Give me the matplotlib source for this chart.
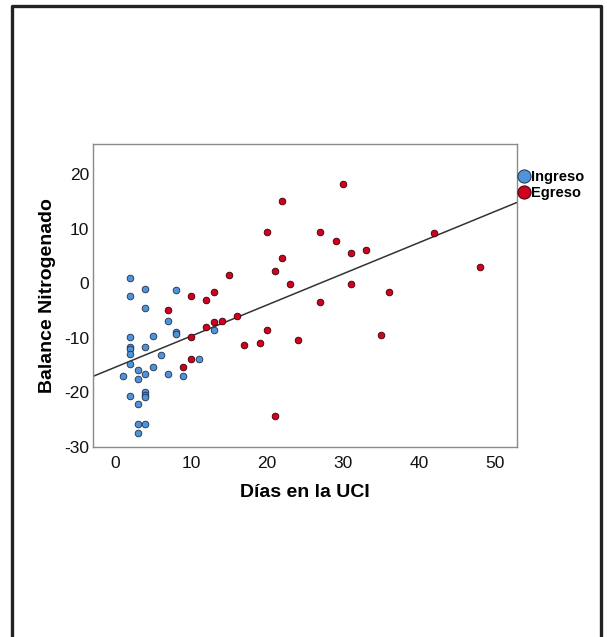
import numpy as np
import matplotlib
matplotlib.use("Agg")
import matplotlib.pyplot as plt
from matplotlib.lines import Line2D

plt.rcParams['font.family'] = ['Liberation Sans', 'DejaVu Sans']
plt.rcParams['axes.unicode_minus'] = False

# Ingreso (admission) points
ingreso_dias = [2, 2, 4, 4, 8, 7, 8, 8, 2, 2, 2, 4, 5, 2, 6, 2, 13, 11, 5, 3,
                4, 7, 1, 9, 3, 2, 4, 4, 4, 3, 3, 4, 3]
ingreso_bal = [0.9, -2.3, -1.0, -4.6, -1.2, -6.9, -8.9, -9.3, -9.9, -11.6, -12.0,
               -11.6, -9.7, -13.0, -13.1, -14.8, -8.5, -13.8, -15.3, -16.0,
               -16.6, -16.6, -17.1, -17.1, -17.6, -20.6, -20.0, -20.5, -20.9,
               -22.2, -25.8, -25.8, -27.4]

# Egreso (discharge) points
egreso_dias = [22, 20, 22, 21, 23, 15, 10, 13, 12, 7, 12, 13, 14, 16, 10, 20,
               17, 19, 24, 10, 9, 21, 30, 27, 29, 31, 33, 42, 48, 31, 36, 27, 35]
egreso_bal = [15.2, 9.4, 4.6, 2.2, -0.2, 1.5, -2.3, -1.5, -3.1, -4.9, -8.0,
              -7.1, -6.9, -6.0, -9.9, -8.5, -11.3, -10.9, -10.4, -13.9, -15.3,
              -24.3, 18.3, 9.5, 7.7, 5.5, 6.2, 9.3, 3.0, -0.1, -1.5, -3.4, -9.4]

# total fit line as drawn in the original
fit_intercept = -15.42
fit_slope = 0.573

xticks = [0, 10, 20, 30, 40, 50]
yticks = [-30, -20, -10, 0, 10, 20]

fig = plt.figure(figsize=(6.07, 6.37), dpi=100)

# outer frame (open at the bottom)
W, H = 607, 637
fx = lambda p: p / W
fy = lambda p: 1 - p / H
frame = Line2D([fx(12), fx(12), fx(601), fx(601)], [0, fy(6), fy(6), 0],
               transform=fig.transFigure, color='#222222', lw=2.4)
fig.add_artist(frame)

ax = fig.add_axes([93.3 / W, 1 - 446.7 / H, (517.3 - 93.3) / W, (446.7 - 144) / H])

blue = '#4f93db'
red = '#d2001f'
ax.scatter(ingreso_dias, ingreso_bal, s=23, c=blue, edgecolors='#1f2f4a',
           linewidths=0.6, zorder=3)
ax.scatter(egreso_dias, egreso_bal, s=23, c=red, edgecolors='#3a0008',
           linewidths=0.6, zorder=3)

xlim = (-2.86, 52.9)
xs = np.array(xlim)
ax.plot(xs, fit_intercept + fit_slope * xs, color='#333333', lw=1.1, zorder=2)

ax.set_xlim(xlim)
ax.set_ylim(-29.8, 25.6)
ax.set_xticks(xticks)
ax.set_yticks(yticks)
ax.tick_params(length=0, labelsize=12.5, colors='#111111')
ax.tick_params(axis='x', pad=7)
ax.tick_params(axis='y', pad=3)
for s in ax.spines.values():
    s.set_color('#8a8a8a')
    s.set_linewidth(1.0)

ax.set_xlabel('Días en la UCI', fontsize=14, fontweight='bold', labelpad=9)
ax.set_ylabel('Balance Nitrogenado', fontsize=14, fontweight='bold', labelpad=6)

handles = [
    Line2D([], [], marker='o', ls='', markersize=9.5, markerfacecolor=blue,
           markeredgecolor='#1f2f4a', markeredgewidth=0.7, label='Ingreso'),
    Line2D([], [], marker='o', ls='', markersize=9.5, markerfacecolor=red,
           markeredgecolor='#3a0008', markeredgewidth=0.7, label='Egreso'),
]
ax.legend(handles=handles, loc='upper left', bbox_to_anchor=(0.995, 0.915),
          frameon=False, prop={'weight': 'bold', 'size': 10.5},
          handletextpad=-0.1, labelspacing=0.15, borderaxespad=0,
          handlelength=1.2, borderpad=0)

fig.savefig('out.png', dpi=100)
